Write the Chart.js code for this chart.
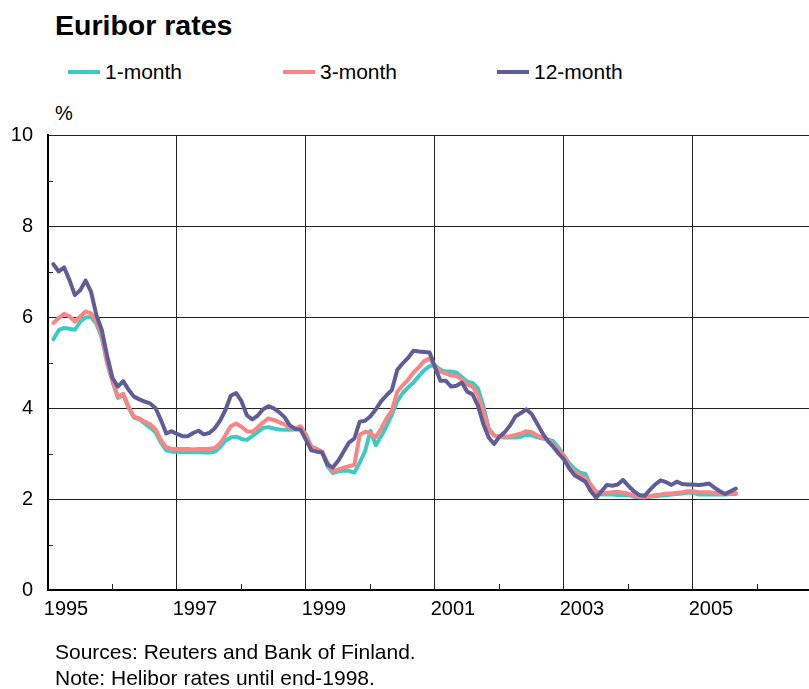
<!DOCTYPE html>
<html>
<head>
<meta charset="utf-8">
<script src="https://cdn.jsdelivr.net/npm/chart.js@4.4.1/dist/chart.umd.min.js"></script>
<style>
  html, body { margin: 0; padding: 0; background: #fff; }
  body { width: 809px; height: 689px; position: relative; overflow: hidden;
         font-family: "Liberation Sans", Arial, sans-serif; color: #000; }
  #canvas { position: absolute; left: 0; top: 0; }
  .txt { position: absolute; white-space: nowrap; line-height: 1; }
  #title { left: 55px; top: 11px; font-size: 28.5px; font-weight: bold; }
  .leg { position: absolute; top: 61px; font-size: 21px; line-height: 21px; white-space: nowrap; }
  .leg i { display: inline-block; width: 32px; height: 4px; vertical-align: middle; margin-right: 5px; position: relative; top: -1px; }
  #unit { left: 55px; top: 103px; font-size: 20px; }
  #src { left: 55px; top: 641px; font-size: 21px; }
  #note { left: 55px; top: 667px; font-size: 21px; }
</style>
</head>
<body>
<div id="title" class="txt">Euribor rates</div>
<div class="leg" style="left:68px"><i style="background:#3ccbc4"></i>1-month</div>
<div class="leg" style="left:283px"><i style="background:#fb8484"></i>3-month</div>
<div class="leg" style="left:497px"><i style="background:#5f5d98"></i>12-month</div>
<div id="unit" class="txt">%</div>
<canvas id="canvas" width="809" height="689"></canvas>
<div id="src" class="txt">Sources: Reuters and Bank of Finland.</div>
<div id="note" class="txt">Note: Helibor rates until end-1998.</div>
<script>
'use strict';

// monthly averages, Jan 1995 - Aug 2005
const startYear = 1995;

const oneMonth = [
   5.51, 5.71, 5.76, 5.74, 5.72, 5.90, 5.99, 6.00, 5.85, 5.55, 4.98, 4.58,
   4.22, 4.28, 4.00, 3.79, 3.75, 3.66, 3.57, 3.47, 3.24, 3.07, 3.04, 3.04,
   3.03, 3.03, 3.03, 3.03, 3.02, 3.02, 3.04, 3.14, 3.28, 3.35, 3.37, 3.32,
   3.30, 3.38, 3.47, 3.56, 3.58, 3.55, 3.53, 3.52, 3.52, 3.53, 3.58, 3.42,
   3.14, 3.10, 3.04, 2.72, 2.57, 2.61, 2.62, 2.62, 2.58, 2.80, 3.05, 3.50,
   3.18, 3.38, 3.60, 3.86, 4.15, 4.33, 4.45, 4.56, 4.70, 4.83, 4.92, 4.94,
   4.84, 4.80, 4.80, 4.78, 4.68, 4.58, 4.55, 4.43, 4.05, 3.55, 3.40, 3.36,
   3.35, 3.35, 3.35, 3.37, 3.41, 3.40, 3.36, 3.33, 3.31, 3.27, 3.13, 2.95,
   2.78, 2.66, 2.58, 2.55, 2.30, 2.13, 2.10, 2.10, 2.10, 2.09, 2.09, 2.09,
   2.05, 2.04, 2.04, 2.05, 2.06, 2.07, 2.08, 2.10, 2.11, 2.12, 2.14, 2.14,
   2.10, 2.10, 2.10, 2.10, 2.10, 2.10, 2.11, 2.11
];

const threeMonth = [
   5.87, 5.98, 6.07, 6.01, 5.90, 6.01, 6.12, 6.08, 5.90, 5.62, 5.00, 4.60,
   4.25, 4.31, 4.03, 3.81, 3.77, 3.70, 3.64, 3.54, 3.30, 3.14, 3.10, 3.10,
   3.10, 3.10, 3.09, 3.10, 3.10, 3.10, 3.12, 3.22, 3.40, 3.60, 3.66, 3.59,
   3.49, 3.48, 3.57, 3.68, 3.77, 3.74, 3.69, 3.64, 3.57, 3.55, 3.60, 3.40,
   3.15, 3.10, 3.04, 2.80, 2.60, 2.65, 2.69, 2.72, 2.75, 3.41, 3.48, 3.45,
   3.36, 3.55, 3.77, 3.95, 4.36, 4.50, 4.62, 4.78, 4.90, 5.03, 5.09, 4.92,
   4.80, 4.76, 4.72, 4.70, 4.63, 4.52, 4.47, 4.29, 3.93, 3.52, 3.40, 3.37,
   3.37, 3.38, 3.41, 3.44, 3.49, 3.47, 3.40, 3.35, 3.30, 3.20, 3.08, 2.95,
   2.72, 2.59, 2.52, 2.46, 2.32, 2.16, 2.14, 2.14, 2.15, 2.16, 2.14, 2.12,
   2.07, 2.05, 2.04, 2.06, 2.09, 2.10, 2.12, 2.12, 2.14, 2.15, 2.17, 2.17,
   2.15, 2.15, 2.15, 2.14, 2.12, 2.11, 2.12, 2.13
];

const twelveMonth = [
   7.16, 7.00, 7.09, 6.81, 6.48, 6.59, 6.80, 6.56, 6.04, 5.72, 5.15, 4.66,
   4.47, 4.59, 4.40, 4.25, 4.19, 4.14, 4.10, 4.00, 3.74, 3.44, 3.49, 3.43,
   3.38, 3.38, 3.45, 3.50, 3.42, 3.45, 3.55, 3.72, 3.95, 4.27, 4.33, 4.15,
   3.84, 3.75, 3.83, 3.97, 4.04, 3.99, 3.91, 3.80, 3.62, 3.54, 3.52, 3.30,
   3.07, 3.04, 3.02, 2.76, 2.69, 2.84, 3.04, 3.24, 3.33, 3.70, 3.72, 3.82,
   3.97, 4.15, 4.28, 4.40, 4.84, 4.98, 5.10, 5.26, 5.24, 5.23, 5.22, 4.90,
   4.60, 4.60, 4.47, 4.49, 4.56, 4.36, 4.30, 4.05, 3.65, 3.35, 3.21, 3.37,
   3.47, 3.62, 3.82, 3.89, 3.97, 3.87, 3.66, 3.45, 3.27, 3.15, 3.00, 2.87,
   2.67, 2.52, 2.45, 2.38, 2.17, 2.03, 2.17, 2.31, 2.29, 2.32, 2.42, 2.29,
   2.17, 2.09, 2.07, 2.20, 2.32, 2.41, 2.37, 2.31, 2.38, 2.33, 2.32, 2.32,
   2.31, 2.32, 2.34, 2.25, 2.17, 2.11, 2.17, 2.23
];

const yearTicks = [1995, 1996, 1997, 1998, 1999, 2000, 2001, 2002, 2003, 2004, 2005, 2006];
const valueTicks = [0, 2, 4, 6, 8, 10];
const minorValueTicks = [1, 3, 5, 7, 9];

const FONT = '"Liberation Sans", Arial, sans-serif';

function toPoints(values) {
   return values.map((v, i) => ({x: startYear + (i + 1) / 12, y: v}));
}

function isLabelYear(v) {
   return v % 2 === 1;
}

// short inner tick marks on both axes
const minorTicks = {
   id: 'minorTicks',
   beforeDatasetsDraw(chart) {
      let {ctx, chartArea, scales} = chart;
      ctx.save();
      ctx.strokeStyle = '#222';
      ctx.lineWidth = 1;
      ctx.beginPath();
      for (let year of yearTicks) {
         if (isLabelYear(year)) continue;
         let x = Math.round(scales.x.getPixelForValue(year)) + 0.5;
         ctx.moveTo(x, chartArea.bottom);
         ctx.lineTo(x, chartArea.bottom - 6);
      }
      for (let v of minorValueTicks) {
         let y = Math.round(scales.y.getPixelForValue(v)) + 0.5;
         ctx.moveTo(chartArea.left, y);
         ctx.lineTo(chartArea.left + 5, y);
      }
      ctx.stroke();
      ctx.restore();
   }
};

let ctx = document.querySelector('#canvas').getContext('2d');
let chart = new Chart(ctx, {
   type: 'line',
   data: {
      datasets: [
         {label: '1-month', data: toPoints(oneMonth), borderColor: '#3ccbc4', backgroundColor: '#3ccbc4', order: 3},
         {label: '3-month', data: toPoints(threeMonth), borderColor: '#fb8484', backgroundColor: '#fb8484', order: 2},
         {label: '12-month', data: toPoints(twelveMonth), borderColor: '#5f5d98', backgroundColor: '#5f5d98', order: 1}
      ]
   },
   options: {
      responsive: false,
      animation: false,
      layout: {padding: {top: 135, left: 0, right: 0, bottom: 0}},
      elements: {
         point: {radius: 0},
         line: {borderWidth: 4, tension: 0, borderJoinStyle: 'round', borderCapStyle: 'round'}
      },
      plugins: {
         legend: {display: false},
         tooltip: {enabled: false}
      },
      scales: {
         x: {
            type: 'linear',
            min: 1995,
            max: 2006.8,
            afterBuildTicks: scale => { scale.ticks = yearTicks.map(v => ({value: v})); },
            afterFit: scale => { scale.height = 99; },
            grid: {
               drawTicks: false,
               lineWidth: 1,
               color: c => (c.tick && isLabelYear(c.tick.value) && c.tick.value !== 1995) ? '#222' : 'rgba(0,0,0,0)'
            },
            border: {color: '#000', width: 2},
            ticks: {
               autoSkip: false,
               maxRotation: 0,
               padding: 7,
               labelOffset: 18,
               color: '#000',
               font: {family: FONT, size: 20},
               callback: v => isLabelYear(v) ? String(v) : ''
            }
         },
         y: {
            min: 0,
            max: 10,
            afterBuildTicks: scale => { scale.ticks = valueTicks.map(v => ({value: v})); },
            afterFit: scale => { scale.width = 48; },
            grid: {drawTicks: false, lineWidth: 1, color: '#222'},
            border: {color: '#000', width: 2},
            ticks: {
               padding: 15,
               color: '#000',
               font: {family: FONT, size: 20}
            }
         }
      }
   },
   plugins: [minorTicks]
});
</script>
</body>
</html>
